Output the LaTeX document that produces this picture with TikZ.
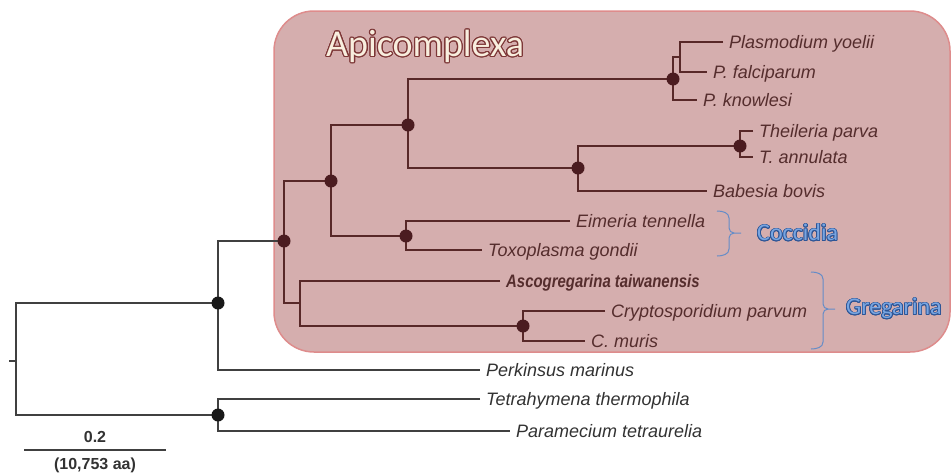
\documentclass[tikz,border=0pt]{standalone}
\usepackage{fontspec}
\setmainfont{Liberation Sans}
\newfontfamily\calibfont{Carlito}
\usepackage{graphicx}
\usepackage{contour}
\contourlength{1.2pt}
\usepackage{tikz}
\usetikzlibrary{positioning,calc}

\definecolor{boxfill}{RGB}{213,174,174}
\definecolor{boxline}{RGB}{222,140,140}
\definecolor{branchin}{RGB}{88,40,40}
\definecolor{dotin}{RGB}{75,28,32}
\definecolor{textin}{RGB}{85,45,45}
\definecolor{branchout}{RGB}{64,64,64}
\definecolor{textout}{RGB}{50,50,50}
\definecolor{dotout}{RGB}{25,25,25}
\definecolor{apitext}{RGB}{248,238,222}
\definecolor{apiedge}{RGB}{125,55,55}
\definecolor{cladeblue}{RGB}{120,165,225}
\definecolor{cladeedge}{RGB}{45,85,150}
\definecolor{braceblue}{RGB}{100,140,200}

\begin{document}
\begin{tikzpicture}[x=1pt, y=-1pt,
    inbranch/.style={draw=branchin, line width=1.4pt},
    outbranch/.style={draw=branchout, line width=1.4pt},
    taxon/.style={anchor=west, inner xsep=6pt, inner ysep=0pt, text height=13pt, text depth=0pt,
        font=\fontsize{18}{20}\selectfont\itshape},
    intaxon/.style={taxon, text=textin},
    outtaxon/.style={taxon, text=textout},
    cladebrace/.style={draw=braceblue, line width=1pt},
    cladetxt/.style={anchor=west, inner sep=0pt, text=cladeblue,
        font=\calibfont\fontsize{24}{26}\selectfont},
    scaletxt/.style={inner sep=0pt, text=textout, font=\fontsize{16}{18}\selectfont\bfseries}]
    \useasboundingbox (0,0) rectangle (952,475);

    % Apicomplexa box
    \draw[draw=boxline, fill=boxfill, line width=1.5pt, rounded corners=40pt] (274,11) rectangle (950,352);
    \node[anchor=west, inner sep=0pt, text=apitext, font=\calibfont\fontsize{38}{40}\selectfont]
        (apititle) at (326,47) {\contour{apiedge}{Apicomplexa}};

    % Branch points
    \coordinate (rootstub) at (9,361);
    \coordinate (root) at (16,361);
    \coordinate (nAlv) at (218,303);
    \coordinate (nCil) at (218,415);
    \coordinate (nApi) at (284,241);
    \coordinate (nAcon) at (331,181);
    \coordinate (nHP) at (408,125);
    \coordinate (nPlas) at (673,79);
    \coordinate (nPlasA) at (680,57);
    \coordinate (nPiro) at (578,168);
    \coordinate (nThei) at (740,146);
    \coordinate (nCocc) at (406,236);
    \coordinate (nGreg) at (300,303);
    \coordinate (nCryp) at (523,326);

    % Taxa inside the box
    \node[intaxon] (yoelii) at (723,42) {Plasmodium yoelii};
    \node[intaxon] (falciparum) at (707,72) {P. falciparum};
    \node[intaxon] (knowlesi) at (697,100) {P. knowlesi};
    \node[intaxon] (parva) at (753,131) {Theileria parva};
    \node[intaxon] (annulata) at (753,157) {T. annulata};
    \node[intaxon] (babesia) at (707,191) {Babesia bovis};
    \node[intaxon] (eimeria) at (570,221) {Eimeria tennella};
    \node[intaxon] (toxoplasma) at (482,250) {Toxoplasma gondii};
    \node[intaxon] (ascogregarina) at (500,281) {\bfseries\scalebox{0.83}[1]{Ascogregarina taiwanensis}};
    \node[intaxon] (cryptosporidium) at (605,311) {Cryptosporidium parvum};
    \node[intaxon] (muris) at (585,341) {C. muris};

    % Outgroups
    \node[outtaxon] (perkinsus) at (480,370) {Perkinsus marinus};
    \node[outtaxon] (tetrahymena) at (480,399) {Tetrahymena thermophila};
    \node[outtaxon] (paramecium) at (510,431) {Paramecium tetraurelia};

    \draw[outbranch] (rootstub) -- (root);
    \draw[outbranch] (nAlv) -| (root) |- (nCil);
    \draw[outbranch] (nApi) -| (nAlv) |- (perkinsus.west);
    \draw[outbranch] (tetrahymena.west) -| (nCil) |- (paramecium.west);

    \draw[inbranch] (nAcon) -| (nApi) |- (nGreg);
    \draw[inbranch] (nHP) -| (nAcon) |- (nCocc);
    \draw[inbranch] (nPlas) -| (nHP) |- (nPiro);
    \draw[inbranch] (nPlasA) -| (nPlas) |- (knowlesi.west);
    \draw[inbranch] (yoelii.west) -| (nPlasA) |- (falciparum.west);
    \draw[inbranch] (nThei) -| (nPiro) |- (babesia.west);
    \draw[inbranch] (parva.west) -| (nThei) |- (annulata.west);
    \draw[inbranch] (eimeria.west) -| (nCocc) |- (toxoplasma.west);
    \draw[inbranch] (ascogregarina.west) -| (nGreg) |- (nCryp);
    \draw[inbranch] (cryptosporidium.west) -| (nCryp) |- (muris.west);

    % Node dots
    \foreach \n in {nApi,nAcon,nHP,nPlas,nPiro,nThei,nCocc,nCryp}
        \fill[dotin] (\n) circle (6.5pt);
    \foreach \n in {nAlv,nCil}
        \fill[dotout] (\n) circle (6.5pt);

    % Braces
    \draw[cladebrace] (717,211) to[out=0,in=90] (729,218) -- (729,228) to[out=-90,in=180] (734,233) -- (741,233);
    \draw[cladebrace] (734,233) to[out=180,in=90] (729,238) -- (729,249) to[out=-90,in=0] (717,256);
    \node[cladetxt] (coccidia) at (757,233) {\contourlength{0.8pt}\contour{cladeedge}{Coccidia}};
    \draw[cladebrace] (811,272) to[out=0,in=90] (823,279) -- (823,304) to[out=-90,in=180] (828,309) -- (835,309);
    \draw[cladebrace] (828,309) to[out=180,in=90] (823,314) -- (823,342) to[out=-90,in=0] (811,349);
    \node[cladetxt] (gregarina) at (846,309) {\contourlength{0.8pt}\contour{cladeedge}{Gregarina}};

    % Scale bar
    \coordinate (barleft) at (24,450);
    \coordinate (barright) at (166,450);
    \draw[outbranch] (barleft) -- (barright);
    \node[scaletxt] (barvalue) at (95,437) {0.2};
    \node[scaletxt] (barunit) at (95,465) {(10,753 aa)};
\end{tikzpicture}
\end{document}
